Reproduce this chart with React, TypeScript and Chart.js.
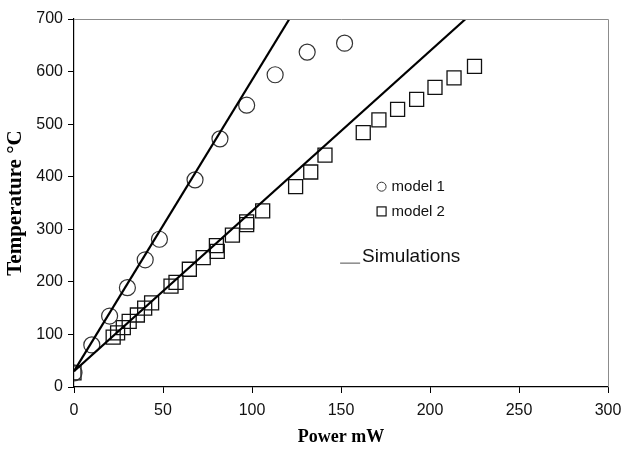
import React, { useEffect, useRef } from "react";
import { Chart, registerables } from "chart.js";
Chart.register(...registerables);

const model1Power = [0, 10, 20, 30, 40, 48, 68, 82, 97, 113, 131, 152];
const model1Temp = [27, 80, 135, 189, 242, 281, 394, 472, 536, 594, 637, 654];

const model2Power = [0, 22, 24.5, 27.7, 31, 35.6, 39.7, 43.6, 54.5, 57.3, 64.8, 72.6, 80, 80.5, 89, 97, 97, 106, 124.5, 133, 141, 162.5, 171.3, 181.8, 192.5, 202.8, 213.5, 225];
const model2Temp = [27, 95, 103, 113, 125, 137, 150, 160, 192, 199, 224, 246, 269, 258, 289, 309, 314, 335, 381, 409, 441, 484, 508, 528, 547, 570, 588, 610];

const sim1Power = [0, 121];
const sim1Temp = [30, 700];
const sim2Power = [0, 220];
const sim2Temp = [30, 700];

const xTickValues = [0, 50, 100, 150, 200, 250, 300];
const yTickValues = [0, 100, 200, 300, 400, 500, 600, 700];

const legendLabels = ["model 1", "model 2", "Simulations"];

const toPts = (xs: number[], ys: number[]) => xs.map((x, i) => ({ x, y: ys[i] }));

const SANS = "'Liberation Sans', Arial, sans-serif";
const SERIF = "'Liberation Serif', 'Times New Roman', serif";

const framePlugin = {
  id: "frameAndLegend",
  afterDraw(chart: any) {
    const { ctx, chartArea } = chart;
    const { left, right, top, bottom } = chartArea;
    ctx.save();
    ctx.strokeStyle = "#8c8c8c";
    ctx.lineWidth = 1;
    ctx.beginPath();
    ctx.moveTo(left, top + 0.5);
    ctx.lineTo(right + 0.5, top + 0.5);
    ctx.lineTo(right + 0.5, bottom);
    ctx.stroke();

    const xs = chart.scales.x;
    const ys = chart.scales.y;
    const lx = xs.getPixelForValue(172.8);
    const y1 = ys.getPixelForValue(381);
    const y2 = ys.getPixelForValue(334);
    const y3 = ys.getPixelForValue(247);

    ctx.fillStyle = "#111";
    ctx.textBaseline = "middle";
    ctx.textAlign = "left";

    ctx.strokeStyle = "#333";
    ctx.lineWidth = 1;
    ctx.beginPath();
    ctx.arc(lx, y1, 4.5, 0, Math.PI * 2);
    ctx.stroke();
    ctx.font = `15px ${SANS}`;
    ctx.fillText(legendLabels[0], lx + 10, y1);

    ctx.strokeStyle = "#111";
    ctx.lineWidth = 1.2;
    ctx.strokeRect(lx - 4.5, y2 - 4.5, 9, 9);
    ctx.fillText(legendLabels[1], lx + 10, y2);

    const sx = xs.getPixelForValue(149.5);
    ctx.strokeStyle = "#777";
    ctx.lineWidth = 1.3;
    ctx.beginPath();
    ctx.moveTo(sx, y3 + 6);
    ctx.lineTo(sx + 20, y3 + 6);
    ctx.stroke();
    ctx.font = `19px ${SANS}`;
    ctx.fillText(legendLabels[2], sx + 22, y3);
    ctx.restore();
  },
};

export default function App() {
  const ref = useRef<HTMLCanvasElement>(null);
  useEffect(() => {
    if (!ref.current) return;
    const chart = new Chart(ref.current, {
      type: "scatter",
      data: {
        datasets: [
          {
            label: "sim1",
            data: toPts(sim1Power, sim1Temp),
            showLine: true,
            borderColor: "#000",
            borderWidth: 2.2,
            pointRadius: 0,
            order: 0,
          },
          {
            label: "sim2",
            data: toPts(sim2Power, sim2Temp),
            showLine: true,
            borderColor: "#000",
            borderWidth: 2.2,
            pointRadius: 0,
            order: 0,
          },
          {
            label: legendLabels[0],
            data: toPts(model1Power, model1Temp),
            pointStyle: "circle",
            pointRadius: 8,
            borderColor: "#333",
            borderWidth: 1.2,
            backgroundColor: "rgba(0,0,0,0)",
            order: 1,
          },
          {
            label: legendLabels[1],
            data: toPts(model2Power, model2Temp),
            pointStyle: "rect",
            pointRadius: 9.9,
            borderColor: "#111",
            borderWidth: 1.3,
            backgroundColor: "rgba(0,0,0,0)",
            order: 1,
          },
        ],
      },
      options: {
        animation: false,
        responsive: false,
        events: [],
        layout: { padding: { left: 0, right: 14, top: 19, bottom: 0 } },
        plugins: { legend: { display: false }, tooltip: { enabled: false } },
        scales: {
          x: {
            type: "linear",
            min: 0,
            max: 300,
            afterBuildTicks: (s: any) => {
              s.ticks = xTickValues.map((v) => ({ value: v }));
            },
            afterFit: (s: any) => {
              s.height = 67;
              s.paddingLeft = 0;
              s.paddingRight = 0;
            },
            grid: { drawOnChartArea: false, drawTicks: true, tickLength: 6, color: "#000", lineWidth: 1 },
            border: { color: "#000", width: 1.2 },
            ticks: { color: "#111", font: { family: SANS, size: 16 }, padding: 8, maxRotation: 0 },
            title: {
              display: true,
              text: "Power mW",
              color: "#000",
              font: { family: SERIF, size: 18, weight: "bold" },
              padding: { top: 0, bottom: 6 },
            },
          },
          y: {
            type: "linear",
            min: 0,
            max: 700,
            afterBuildTicks: (s: any) => {
              s.ticks = yTickValues.map((v) => ({ value: v }));
            },
            afterFit: (s: any) => {
              s.width = 74;
              s.paddingTop = 0;
              s.paddingBottom = 0;
            },
            grid: { drawOnChartArea: false, drawTicks: true, tickLength: 6, color: "#000", lineWidth: 1 },
            border: { color: "#000", width: 1.2 },
            ticks: { color: "#111", font: { family: SANS, size: 16 }, padding: 5 },
            title: {
              display: true,
              text: "Temperature °C",
              color: "#000",
              font: { family: SERIF, size: 21, weight: "bold" },
              padding: { top: 3, bottom: 0 },
            },
          },
        },
      },
      plugins: [framePlugin],
    } as any);
    return () => chart.destroy();
  }, []);
  return (
    <div style={{ position: "fixed", left: 0, top: 0, width: 622, height: 454, background: "#fff" }}>
      <canvas ref={ref} width={622} height={454} />
    </div>
  );
}
